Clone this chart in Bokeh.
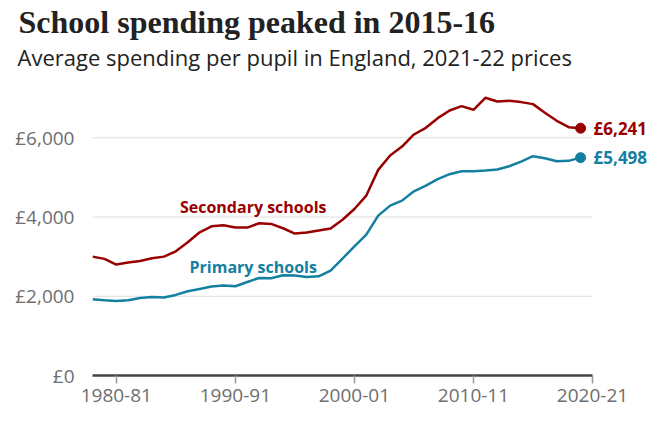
from bokeh.plotting import figure
from bokeh.models import Label, FixedTicker, ColumnDataSource, Title
from bokeh.embed import file_html
from bokeh.resources import INLINE

years = list(range(1978, 2020))
secondary = [3000, 2943, 2800, 2850, 2892, 2960, 3000, 3135, 3362, 3615, 3766, 3791,
             3733, 3733, 3842, 3825, 3716, 3582, 3607, 3657, 3708, 3930, 4203,
             4541, 5190, 5552, 5779, 6083, 6251, 6495, 6689, 6799, 6706, 7009, 6917,
             6933, 6900, 6849, 6630, 6428, 6268, 6241]
primary = [1925, 1900, 1883, 1900, 1958, 1983, 1967, 2034, 2126, 2185, 2244, 2269,
           2252, 2361, 2462, 2454, 2530, 2521, 2488, 2504, 2648, 2950, 3260,
           3555, 4035, 4288, 4414, 4650, 4794, 4954, 5080, 5156, 5156, 5173, 5198,
           5282, 5400, 5535, 5484, 5409, 5417, 5498]
x_ticks = [1980, 1990, 2000, 2010, 2020]
x_tick_labels = ["1980-81", "1990-91", "2000-01", "2010-11", "2020-21"]
y_ticks = [0, 2000, 4000, 6000]
y_tick_labels = ["£0", "£2,000", "£4,000", "£6,000"]

title_text = "School spending peaked in 2015-16"
subtitle_text = "Average spending per pupil in England, 2021-22 prices"

RED = "#990000"
TEAL = "#1380A1"
SANS = "Open Sans"

X0, X1 = 1978, 2020          # axis extent
X_END = 2025.88              # extra room on the right for end labels

p = figure(width=662, height=423, x_range=(X0, X_END), y_range=(0, 7193),
           output_backend="svg", toolbar_location=None, title=None,
           min_border_left=92, min_border_right=0, min_border_top=90, min_border_bottom=48)
p.outline_line_color = None
p.background_fill_color = "white"
p.border_fill_color = "white"

# axes
p.xaxis.ticker = FixedTicker(ticks=x_ticks)
p.xaxis.bounds = (X0, X1)
p.xaxis.major_label_overrides = dict(zip(x_ticks, x_tick_labels))
p.xaxis.axis_line_color = "#444444"
p.xaxis.axis_line_width = 2.5
p.xaxis.major_tick_line_color = "#999999"
p.xaxis.major_tick_line_width = 1.5
p.xaxis.major_tick_in = 0
p.xaxis.major_tick_out = 8
p.xaxis.minor_tick_line_color = None
p.xaxis.major_label_text_font = SANS
p.xaxis.major_label_text_font_size = "19px"
p.xaxis.major_label_text_color = "#6e6e6e"
p.xaxis.major_label_standoff = 5

p.yaxis.ticker = FixedTicker(ticks=y_ticks)
p.yaxis.major_label_overrides = dict(zip(y_ticks, y_tick_labels))
p.yaxis.axis_line_color = None
p.yaxis.major_tick_line_color = None
p.yaxis.minor_tick_line_color = None
p.yaxis.major_label_text_font = SANS
p.yaxis.major_label_text_font_size = "19px"
p.yaxis.major_label_text_color = "#6e6e6e"
p.yaxis.major_label_standoff = 12

p.xgrid.grid_line_color = None
p.ygrid.grid_line_color = None

# horizontal grid lines, limited to the axis extent
grid_y = y_ticks[1:]
p.segment(x0=[X0] * len(grid_y), y0=grid_y, x1=[X1] * len(grid_y), y1=grid_y,
          line_color="#dddddd", line_width=1)

src = ColumnDataSource(dict(x=years, sec=secondary, pri=primary))
p.line("x", "sec", source=src, line_color=RED, line_width=2.5)
p.line("x", "pri", source=src, line_color=TEAL, line_width=2.5)

p.scatter([years[-1]], [secondary[-1]], size=10, color=RED)
p.scatter([years[-1]], [primary[-1]], size=10, color=TEAL)

for v, c in ((secondary[-1], RED), (primary[-1], TEAL)):
    p.add_layout(Label(x=years[-1], y=v, text=f"£{v:,}", x_offset=13,
                       text_align="left", text_baseline="middle",
                       text_font=SANS, text_font_style="bold",
                       text_font_size="17px", text_color=c))

p.add_layout(Label(x=1991.5, y=4265, text="Secondary schools", text_align="center",
                   text_baseline="middle", text_font=SANS, text_font_style="bold",
                   text_font_size="16px", text_color=RED))
p.add_layout(Label(x=1991.5, y=2751, text="Primary schools", text_align="center",
                   text_baseline="middle", text_font=SANS, text_font_style="bold",
                   text_font_size="16px", text_color=TEAL))

# titles: subtitle first (closest to the plot), then the main title
p.add_layout(Title(text=subtitle_text, align="left", offset=-75, standoff=37,
                   text_font=SANS, text_font_style="normal", text_font_size="22px",
                   text_color="#222222"), "above")
p.add_layout(Title(text=title_text, align="left", offset=-74, standoff=-36,
                   text_font="Liberation Serif", text_font_style="bold",
                   text_font_size="32px", text_color="#222222"), "above")

open("out.html", "w").write(file_html(p, INLINE))
